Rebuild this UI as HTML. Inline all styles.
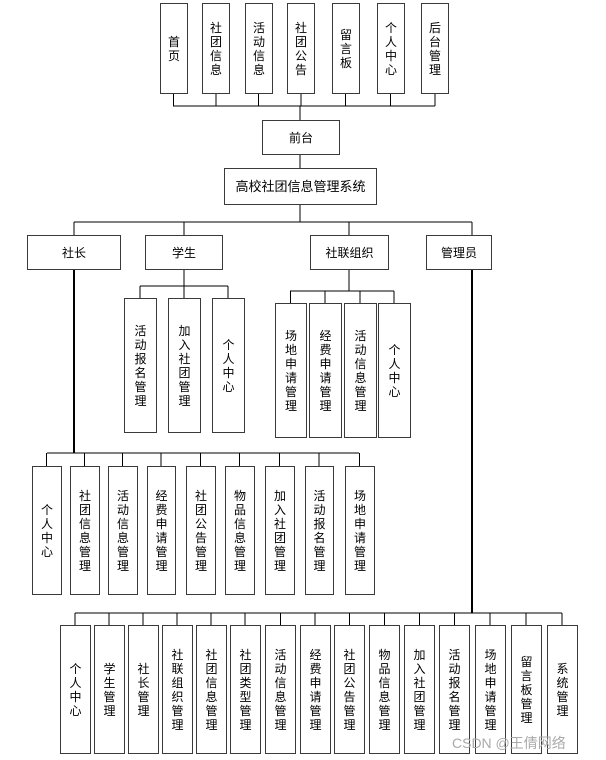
<!DOCTYPE html>
<html><head><meta charset="utf-8"><style>
body{margin:0;width:606px;height:760px;background:#fff;position:relative;overflow:hidden;font-family:"Liberation Sans","Noto Sans CJK SC",sans-serif}
.b{position:absolute;border:1.5px solid #3a3a3a;box-sizing:border-box;background:#fff;display:flex;align-items:center;justify-content:center;text-align:center;font-size:12px;line-height:14px;color:#000}
.v span{display:block;width:12px;word-break:break-all}
svg{position:absolute;left:0;top:0}
.wm{position:absolute;left:452px;top:733px;font-size:14px;color:#aaa;font-family:"Liberation Sans","Noto Sans CJK SC",sans-serif}
</style></head><body>
<svg width="606" height="760">
<g stroke="#000" stroke-width="1" fill="none">
<path d="M173.5 93V106M216 93V106M258.5 93V106M301 93V106M345.5 93V106M390.5 93V106M435 93V106M173 106H435M300 106V120M300 154V168M300 205V222M74 222H472M74 222V235M184 222V235M349 222V235M472 222V235"/>
<path d="M47 453H359M46.5 453V466M84.5 453V466M122.5 453V466M161 453V466M200.5 453V466M239.5 453V466M279.5 453V466M319 453V466M359.5 453V466"/>
<path d="M184 269V286M140 286H228M140 286V298M184 286V298M228 286V298"/>
<path d="M349 269V291M290 291H394M290.5 291V303M325 291V303M360 291V303M394 291V303"/>
<path d="M75 613H562M75 613V625M109 613V625M143 613V625M177 613V625M211 613V625M245 613V625M280.5 613V625M315 613V625M349.5 613V625M384.5 613V625M419.5 613V625M454.5 613V625M490 613V625M526 613V625M562 613V625"/>
</g>
<g stroke="#000" stroke-width="2"><path d="M74 269V453M472 269V613"/></g>
</svg>

<div class="b v" style="left:160px;top:3px;width:28px;height:91px"><span>首页</span></div>
<div class="b v" style="left:202px;top:3px;width:28px;height:91px"><span>社团信息</span></div>
<div class="b v" style="left:245px;top:3px;width:28px;height:91px"><span>活动信息</span></div>
<div class="b v" style="left:287px;top:3px;width:28px;height:91px"><span>社团公告</span></div>
<div class="b v" style="left:332px;top:3px;width:28px;height:91px"><span>留言板</span></div>
<div class="b v" style="left:377px;top:3px;width:28px;height:91px"><span>个人中心</span></div>
<div class="b v" style="left:421px;top:3px;width:28px;height:91px"><span>后台管理</span></div>

<div class="b" style="left:262px;top:120px;width:78px;height:35px">前台</div>
<div class="b" style="left:224px;top:168px;width:153px;height:37px;font-size:13px">高校社团信息管理系统</div>

<div class="b" style="left:27px;top:235px;width:94px;height:35px">社长</div>
<div class="b" style="left:145px;top:235px;width:78px;height:35px">学生</div>
<div class="b" style="left:310px;top:235px;width:79px;height:35px">社联组织</div>
<div class="b" style="left:426px;top:235px;width:66px;height:35px">管理员</div>

<div class="b v" style="left:124px;top:298px;width:33px;height:135px"><span>活动报名管理</span></div>
<div class="b v" style="left:168px;top:298px;width:33px;height:135px"><span>加入社团管理</span></div>
<div class="b v" style="left:212px;top:298px;width:33px;height:135px"><span>个人中心</span></div>

<div class="b v" style="left:275px;top:303px;width:32px;height:135px"><span>场地申请管理</span></div>
<div class="b v" style="left:309px;top:303px;width:33px;height:135px"><span>经费申请管理</span></div>
<div class="b v" style="left:344px;top:303px;width:33px;height:135px"><span>活动信息管理</span></div>
<div class="b v" style="left:378px;top:303px;width:33px;height:135px"><span>个人中心</span></div>

<div class="b v" style="left:32px;top:466px;width:30px;height:129px"><span>个人中心</span></div>
<div class="b v" style="left:70px;top:466px;width:30px;height:129px"><span>社团信息管理</span></div>
<div class="b v" style="left:108px;top:466px;width:30px;height:129px"><span>活动信息管理</span></div>
<div class="b v" style="left:147px;top:466px;width:29px;height:129px"><span>经费申请管理</span></div>
<div class="b v" style="left:186px;top:466px;width:30px;height:129px"><span>社团公告管理</span></div>
<div class="b v" style="left:225px;top:466px;width:30px;height:129px"><span>物品信息管理</span></div>
<div class="b v" style="left:265px;top:466px;width:30px;height:129px"><span>加入社团管理</span></div>
<div class="b v" style="left:305px;top:466px;width:29px;height:129px"><span>活动报名管理</span></div>
<div class="b v" style="left:345px;top:466px;width:30px;height:129px"><span>场地申请管理</span></div>

<div class="b v" style="left:60px;top:625px;width:31px;height:129px"><span>个人中心</span></div>
<div class="b v" style="left:94px;top:625px;width:31px;height:129px"><span>学生管理</span></div>
<div class="b v" style="left:128px;top:625px;width:31px;height:129px"><span>社长管理</span></div>
<div class="b v" style="left:162px;top:625px;width:31px;height:129px"><span>社联组织管理</span></div>
<div class="b v" style="left:196px;top:625px;width:31px;height:129px"><span>社团信息管理</span></div>
<div class="b v" style="left:230px;top:625px;width:31px;height:129px"><span>社团类型管理</span></div>
<div class="b v" style="left:265px;top:625px;width:31px;height:129px"><span>活动信息管理</span></div>
<div class="b v" style="left:300px;top:625px;width:31px;height:129px"><span>经费申请管理</span></div>
<div class="b v" style="left:334px;top:625px;width:31px;height:129px"><span>社团公告管理</span></div>
<div class="b v" style="left:369px;top:625px;width:31px;height:129px"><span>物品信息管理</span></div>
<div class="b v" style="left:404px;top:625px;width:31px;height:129px"><span>加入社团管理</span></div>
<div class="b v" style="left:439px;top:625px;width:31px;height:129px"><span>活动报名管理</span></div>
<div class="b v" style="left:475px;top:625px;width:31px;height:129px"><span>场地申请管理</span></div>
<div class="b v" style="left:511px;top:625px;width:31px;height:129px"><span>留言板管理</span></div>
<div class="b v" style="left:547px;top:625px;width:31px;height:129px"><span>系统管理</span></div>

<div class="wm">CSDN @王倩网络</div>
</body></html>
